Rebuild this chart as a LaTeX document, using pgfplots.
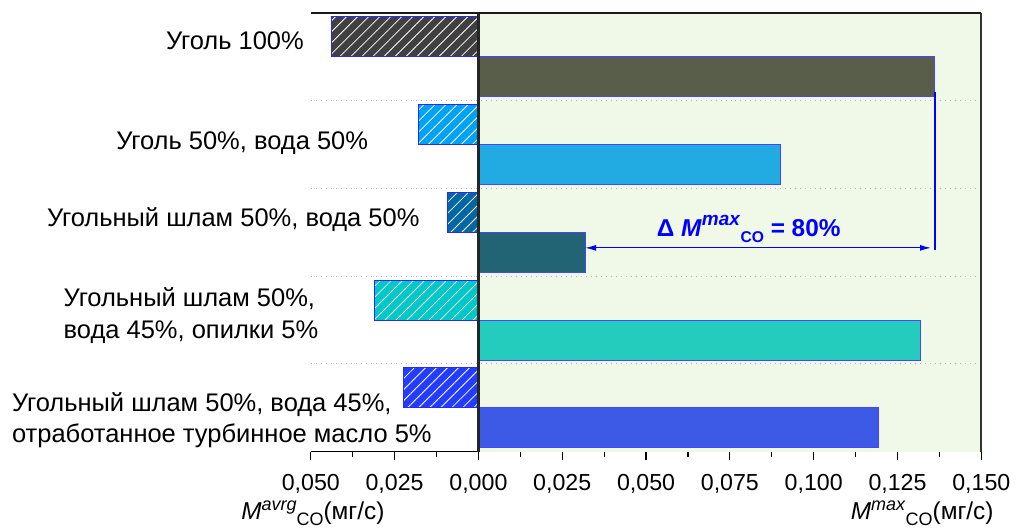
\documentclass[border=0pt]{standalone}
\usepackage{fontspec}
\setmainfont{Liberation Sans}
\usepackage{pgfplots}
\pgfplotsset{compat=1.18}
\usetikzlibrary{patterns.meta,arrows.meta}

\definecolor{HA}{RGB}{64,64,64}
\definecolor{SA}{RGB}{88,94,74}
\definecolor{HB}{RGB}{0,162,245}
\definecolor{SB}{RGB}{34,170,226}
\definecolor{HC}{RGB}{0,102,164}
\definecolor{SC}{RGB}{34,100,115}
\definecolor{HD}{RGB}{0,200,200}
\definecolor{SD}{RGB}{36,204,190}
\definecolor{HE}{RGB}{36,60,255}
\definecolor{SE}{RGB}{60,90,230}
\definecolor{bgG}{RGB}{240,248,232}
\definecolor{edge}{RGB}{40,40,255}
\definecolor{sedge}{RGB}{70,70,255}
\definecolor{annot}{RGB}{0,0,255}

\tikzset{hatch/.style={postaction={pattern={Lines[angle=45,distance=3.9pt,line width=0.4pt]},pattern color=white}}}

\newcommand{\catfont}{\fontsize{12.75}{15}\selectfont}
\newcommand{\tickfont}{\fontsize{11.6}{13}\selectfont}
\newcommand{\labfont}{\fontsize{12.2}{14}\selectfont}

\begin{document}
\begin{tikzpicture}
\begin{axis}[
  scale only axis,
  width=335.5pt, height=219.5pt,
  xmin=-0.05, xmax=0.15, ymin=-0.5, ymax=4.5,
  clip=false,
  axis x line*=bottom,
  axis y line=none,
  x axis line style={line width=0.7pt, black},
  ytick=\empty,
  xtick={-0.05,-0.025,0,0.025,0.05,0.075,0.1,0.125,0.15},
  xticklabels={{0,050},{0,025},{0,000},{0,025},{0,050},{0,075},{0,100},{0,125},{0,150}},
  minor x tick num=1,
  tick align=outside,
  major tick length=4pt,
  minor tick length=2.5pt,
  tick style={black, line width=0.6pt},
  xticklabel style={font=\tickfont, yshift=-4pt},
]
% background of the right part
\fill[bgG] (axis cs:0,-0.5) rectangle (axis cs:0.15,4.5);
% separators
\draw[black!30, dotted, line width=0.5pt] (axis cs:-0.05,0.5) -- (axis cs:0.15,0.5);
\draw[black!30, dotted, line width=0.5pt] (axis cs:-0.05,1.5) -- (axis cs:0.15,1.5);
\draw[black!30, dotted, line width=0.5pt] (axis cs:-0.05,2.5) -- (axis cs:0.15,2.5);
\draw[black!30, dotted, line width=0.5pt] (axis cs:-0.05,3.5) -- (axis cs:0.15,3.5);
% hatched (average) bars
\addplot[xbar, bar width=0.456, bar shift=0pt, fill=HA, draw=edge, line width=0.5pt, hatch] coordinates {(-0.0439,4.228)};
\addplot[xbar, bar width=0.456, bar shift=0pt, fill=HB, draw=edge, line width=0.5pt, hatch] coordinates {(-0.0178,3.228)};
\addplot[xbar, bar width=0.456, bar shift=0pt, fill=HC, draw=edge, line width=0.5pt, hatch] coordinates {(-0.0093,2.228)};
\addplot[xbar, bar width=0.456, bar shift=0pt, fill=HD, draw=edge, line width=0.5pt, hatch] coordinates {(-0.0311,1.228)};
\addplot[xbar, bar width=0.456, bar shift=0pt, fill=HE, draw=edge, line width=0.5pt, hatch] coordinates {(-0.0224,0.228)};
% solid (max) bars
\addplot[xbar, bar width=0.456, bar shift=0pt, fill=SA, draw=sedge, line width=0.5pt] coordinates {(0.1361,3.772)};
\addplot[xbar, bar width=0.456, bar shift=0pt, fill=SB, draw=sedge, line width=0.5pt] coordinates {(0.0900,2.772)};
\addplot[xbar, bar width=0.456, bar shift=0pt, fill=SC, draw=sedge, line width=0.5pt] coordinates {(0.0318,1.772)};
\addplot[xbar, bar width=0.456, bar shift=0pt, fill=SD, draw=sedge, line width=0.5pt] coordinates {(0.1320,0.772)};
\addplot[xbar, bar width=0.456, bar shift=0pt, fill=SE, draw=sedge, line width=0.5pt] coordinates {(0.1192,-0.228)};
% frame parts
\draw[line width=1.1pt, black!85] (axis cs:0,-0.5) -- (axis cs:0,4.5);
\draw[line width=0.8pt, black!90] (rel axis cs:0,1) -- (rel axis cs:1,1);
\draw[line width=0.9pt, black!80] (rel axis cs:1,0) -- (rel axis cs:1,1);
% annotation
\draw[annot, line width=1.2pt] (axis cs:0.1362,3.60) -- (axis cs:0.1362,1.80);
\draw[annot, line width=0.6pt, {Latex[length=5.5pt,width=3pt]}-{Latex[length=5.5pt,width=3pt]}] (axis cs:0.0318,1.823) -- (axis cs:0.1350,1.823);
\node[anchor=base west, inner sep=0pt, text=annot, font=\fontsize{12.2}{14}\selectfont\bfseries] at (rel axis cs:0.5156,0.4897)
  {Δ \textit{M}\raisebox{5.5pt}{\fontsize{9.5}{10}\selectfont\textit{max}}\raisebox{-3pt}{\fontsize{7.8}{8}\selectfont CO} = 80\%};
% category labels
\node[anchor=base west, inner sep=0pt, font=\catfont] at (rel axis cs:-0.2165,0.9164) {Уголь 100\%};
\node[anchor=base west, inner sep=0pt, font=\catfont] at (rel axis cs:-0.2906,0.6895) {Уголь 50\%, вода 50\%};
\node[anchor=base west, inner sep=0pt, font=\catfont] at (rel axis cs:-0.3939,0.5132) {Угольный шлам 50\%, вода 50\%};
\node[anchor=base west, inner sep=0pt, font=\catfont] at (rel axis cs:-0.3691,0.3310) {Угольный шлам 50\%,};
\node[anchor=base west, inner sep=0pt, font=\catfont] at (rel axis cs:-0.3691,0.2590) {вода 45\%, опилки 5\%};
\node[anchor=base west, inner sep=0pt, font=\catfont] at (rel axis cs:-0.4461,0.0918) {Угольный шлам 50\%, вода 45\%,};
\node[anchor=base west, inner sep=0pt, font=\catfont] at (rel axis cs:-0.4461,0.0198) {отработанное турбинное масло 5\%};
% axis labels
\node[anchor=base west, inner sep=0pt, font=\labfont] at (rel axis cs:-0.1043,-0.1549)
  {\textit{M}\raisebox{4.5pt}{\fontsize{9}{10}\selectfont\textit{avrg}}\raisebox{-3pt}{\fontsize{9}{10}\selectfont CO}(мг/с)};
\node[anchor=base west, inner sep=0pt, font=\labfont] at (rel axis cs:0.8048,-0.1549)
  {\textit{M}\raisebox{4.5pt}{\fontsize{9}{10}\selectfont\textit{max}}\raisebox{-3pt}{\fontsize{9}{10}\selectfont CO}(мг/с)};
% bounding box
\path (rel axis cs:-0.4635,-0.1754) rectangle (rel axis cs:1.0522,1.0296);
\end{axis}
\end{tikzpicture}
\end{document}
